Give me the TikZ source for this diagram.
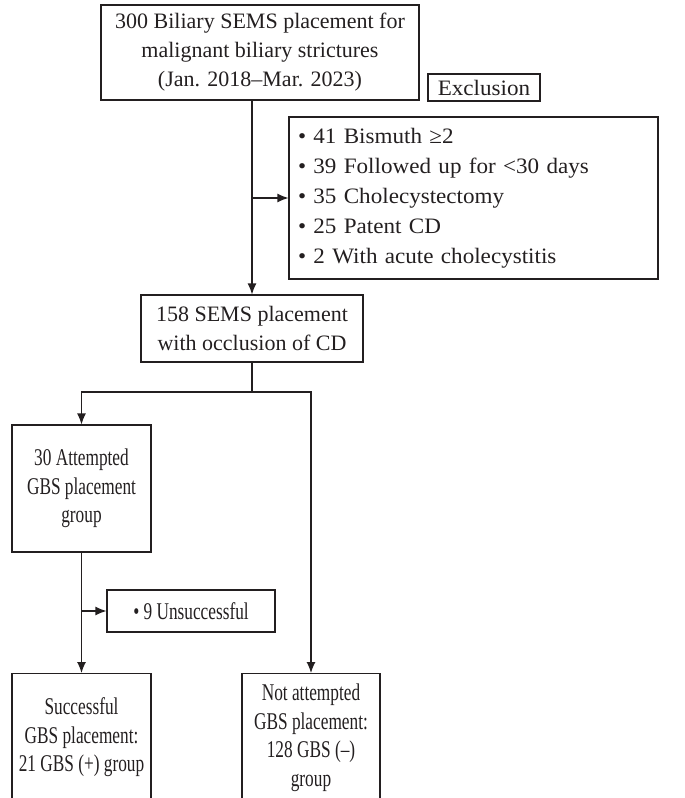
\documentclass[tikz,border=0pt]{standalone}
\usepackage{fontspec}
\setmainfont{Liberation Serif}
\newfontfamily\wfont{Liberation Serif}[FakeStretch=1.0]
\newfontfamily\lfont{Liberation Serif}[FakeStretch=1.05]
\newfontfamily\nfont{Liberation Serif}[FakeStretch=0.72]
\usetikzlibrary{arrows.meta}
\definecolor{ink}{HTML}{231F20}
\tikzset{
  box/.style={draw=ink, text=ink, line width=1.1pt, inner sep=0pt, align=center},
  wtext/.style={font=\wfont\fontsize{22}{29}\selectfont},
  ntext/.style={font=\nfont\fontsize{24}{28.5}\selectfont},
  conn/.style={draw=ink, line width=1.2pt},
  arr/.style={conn, -{Latex[length=11pt,width=9pt]}}
}
\begin{document}
\begin{tikzpicture}[x=1pt,y=-1pt]
\useasboundingbox (0,0) rectangle (685,798);
\clip (0,0) rectangle (685,798);
\node[box,wtext,minimum width=318pt,minimum height=95pt] (top) at (260,52.5)
  {300 Biliary SEMS placement for\\malignant biliary strictures\\(Jan. 2018–Mar. 2023)};
\node[box,wtext,minimum width=112pt,minimum height=27pt,font=\lfont\fontsize{22}{29}\selectfont] (excl) at (484,87.5) {Exclusion};
\node[box,minimum width=369pt,minimum height=162pt,align=left,text width=351pt,inner xsep=9pt,font=\lfont\fontsize{22}{30}\selectfont] (list) at (473.5,198)
  {• 41 Bismuth ≥2\\• 39 Followed up for <30 days\\• 35 Cholecystectomy\\• 25 Patent CD\\• 2 With acute cholecystitis};
\node[box,wtext,minimum width=222pt,minimum height=67pt] (mid) at (252,328.5)
  {158 SEMS placement\\with occlusion of CD};
\node[box,ntext,minimum width=139pt,minimum height=127pt] (att) at (81.5,488.5)
  {30 Attempted\\GBS placement\\group};
\node[box,ntext,minimum width=168pt,minimum height=42pt] (uns) at (191,611)
  {• 9 Unsuccessful};
\node[box,ntext,minimum width=139pt,minimum height=128pt,anchor=north] (succ) at (81.5,673)
  {Successful\\GBS placement:\\21 GBS (+) group};
\node[box,ntext,minimum width=138pt,minimum height=128pt,anchor=north] (nota) at (311,673)
  {Not attempted\\GBS placement:\\128 GBS (–)\\group};
\coordinate (br) at (252,392);
\draw[arr] (mid.north |- top.south) -- (mid.north);
\draw[arr] (mid.north |- list.west) -- (list.west);
\draw[conn] (mid.south) -- (br);
\draw[arr] (br) -| (att.north);
\draw[arr] (br) -| (nota.north);
\draw[arr] (att.south) -- (succ.north);
\draw[arr] (att.south |- uns.west) -- (uns.west);
\end{tikzpicture}
\end{document}
